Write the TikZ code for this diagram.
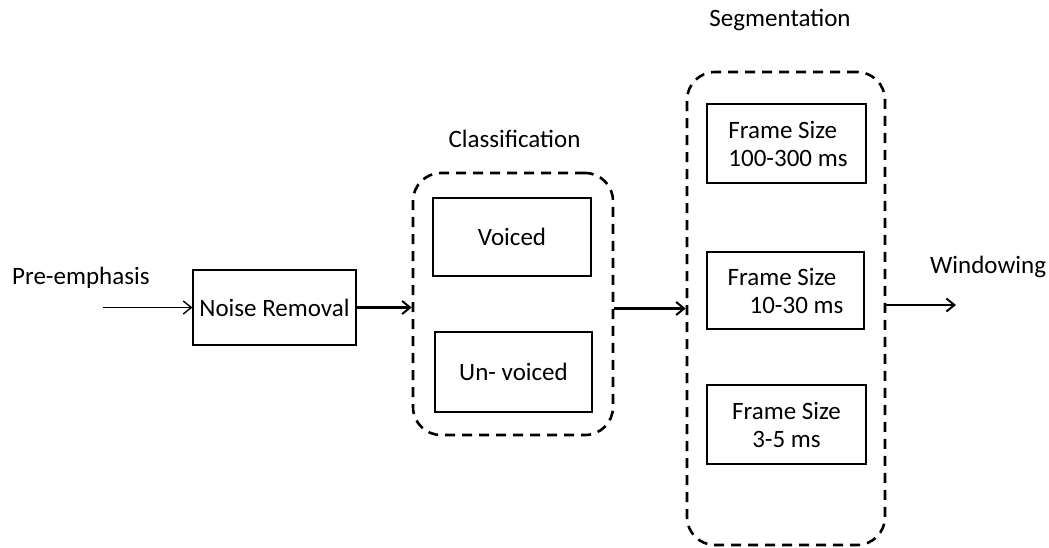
\documentclass[tikz,border=0pt]{standalone}
\usepackage{fontspec}
\setmainfont{Carlito}
\usetikzlibrary{arrows.meta}
\begin{document}
\begin{tikzpicture}[x=1pt,y=-1pt,
  every node/.style={font=\fontsize{25}{28}\selectfont, inner sep=0pt},
  block/.style={draw, line width=1.2pt, rectangle},
  group/.style={draw, line width=2.6pt, dash pattern=on 10pt off 7pt, rounded corners=28pt, rectangle},
  label/.style={anchor=base},
  thinflow/.style={line width=1.4pt, -{Straight Barb[length=8pt,width=13pt,line width=1.4pt]}},
  flow/.style={line width=2.2pt, -{Straight Barb[length=8pt,width=13pt,line width=2pt]}}
]
\useasboundingbox (0,0) rectangle (1049,548);

% processing blocks
\node[block, minimum width=163pt, minimum height=75pt] (noise) at (274.5,307.5) {Noise Removal};

\node[group, minimum width=200pt, minimum height=262pt] (class) at (513,304) {};
\node[block, minimum width=158pt, minimum height=78pt] (voiced) at (512,237) {Voiced};
\node[block, minimum width=157pt, minimum height=80pt] (unvoiced) at (513.5,372) {Un- voiced};

\node[group, minimum width=198pt, minimum height=473pt] (seg) at (786,308.5) {};
\node[block, minimum width=159pt, minimum height=79pt, align=left] (f1) at (786.5,143.5) {\hspace*{3pt}Frame Size\\\hspace*{3pt}100-300 ms};
\node[block, minimum width=157pt, minimum height=77pt, align=left] (f2) at (785.5,290.5) {Frame Size\\\hspace*{22pt}10-30 ms};
\node[block, minimum width=159pt, minimum height=79pt, align=center] (f3) at (786.5,424.5) {Frame Size\\3-5 ms};

% captions
\node[label, anchor=base west] (pre) at (12,284) {Pre-emphasis};
\node[label] (classcap) at (514.5,148) {Classification};
\node[label] (segcap) at (780,27) {Segmentation};
\node[label, anchor=base west] (win) at (930,273) {Windowing};

% signal flow
\coordinate (in) at (103,307.5);
\coordinate (out) at (956,305);
\draw[thinflow] (in) -- (noise.west);
\draw[flow] (noise.east) -- (noise.east -| class.west);
\draw[flow] (class.east |- seg.west) -- (seg.west);
\draw[flow] (seg.east |- out) -- (out);
\end{tikzpicture}
\end{document}
